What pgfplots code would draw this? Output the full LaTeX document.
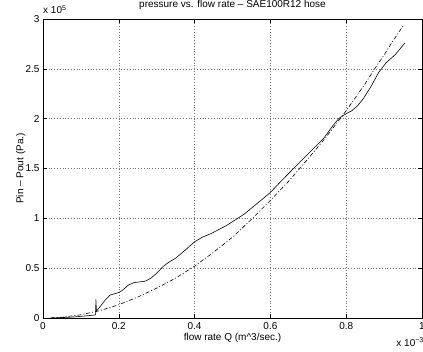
\documentclass[border=0pt]{standalone}
\usepackage{fontspec}
\setmainfont{Liberation Sans}
\usepackage{pgfplots}
\pgfplotsset{compat=1.18}
\begin{document}
\fontsize{10}{12}\selectfont
\begin{tikzpicture}
\begin{axis}[
  name=ax,
  scale only axis,
  width=379pt, height=299pt,
  xmin=0, xmax=1, ymin=0, ymax=3,
  xtick={0,0.2,0.4,0.6,0.8,1},
  xticklabels={0,0.2,0.4,0.6,0.8,1},
  ytick={0,0.5,1,1.5,2,2.5,3},
  yticklabels={0,0.5,1,1.5,2,2.5,3},
  /pgf/number format/assume math mode=true,
  tick align=inside,
  major tick length=4pt,
  tick style={black, line width=0.5pt},
  axis line style={black, line width=0.9pt},
  grid=major,
  grid style={black!55, line width=0.5pt, dash pattern=on 0.6pt off 2.2pt},
  every tick label/.append style={font=\fontsize{10}{12}\selectfont},
  xticklabel style={yshift=-1pt},
  title={pressure vs. flow rate -- SAE100R12 hose},
  title style={at={(axis description cs:0.5,1)}, anchor=base, yshift=6pt, inner sep=0pt, font=\fontsize{10}{12}\selectfont},
  xlabel={flow rate Q (m\textasciicircum3/sec.)},
  xlabel style={at={(axis description cs:0.5,0)}, anchor=base, yshift=-22pt, inner sep=0pt, font=\fontsize{10}{12}\selectfont},
  ylabel={Pin -- Pout (Pa.)},
  ylabel style={at={(axis description cs:-0.052,0.5)}, anchor=base, rotate=0, inner sep=0pt, font=\fontsize{10}{12}\selectfont},
  clip=false,
]
\addplot[black, line width=0.6pt] coordinates {
(0.02,0.0) (0.05,0.004) (0.08,0.01) (0.11,0.02) (0.13,0.028) (0.139,0.032)
(0.1395,0.19) (0.141,0.07) (0.15,0.11) (0.164,0.18) (0.177,0.23) (0.19,0.245)
(0.2,0.255) (0.21,0.28) (0.225,0.33) (0.24,0.355) (0.255,0.362) (0.27,0.37)
(0.285,0.40) (0.30,0.45) (0.315,0.51) (0.33,0.555) (0.35,0.60) (0.375,0.68)
(0.40,0.765) (0.42,0.81) (0.445,0.85) (0.485,0.93) (0.53,1.04) (0.575,1.18)
(0.60,1.26) (0.63,1.38) (0.674,1.55) (0.71,1.686) (0.74,1.80) (0.765,1.93)
(0.78,2.0) (0.80,2.05) (0.815,2.08) (0.83,2.13) (0.845,2.20) (0.865,2.32)
(0.885,2.46) (0.905,2.56) (0.93,2.645) (0.955,2.76)
};
\addplot[black, line width=0.6pt, dash pattern=on 4pt off 2pt on 1pt off 2pt] coordinates {
(0.02,0.001) (0.05,0.008) (0.1,0.033) (0.15,0.074) (0.2,0.133) (0.25,0.21)
(0.3,0.30) (0.35,0.40) (0.4,0.52) (0.45,0.66) (0.5,0.81) (0.55,0.99)
(0.6,1.18) (0.65,1.38) (0.7,1.6) (0.75,1.83) (0.8,2.08) (0.85,2.35)
(0.875,2.50) (0.9,2.64) (0.925,2.79) (0.95,2.93)
};
\coordinate (bl) at (rel axis cs:0,0);
\coordinate (tr) at (rel axis cs:1,1);
\end{axis}
\node[anchor=base west, inner sep=0pt] at ([yshift=5pt]bl |- tr) {x 10\textsuperscript{5}};
\node[anchor=base east, inner sep=0pt] at ([xshift=2pt,yshift=-28pt]tr |- bl) {x 10\textsuperscript{−3}};
\pgfresetboundingbox
\path ([xshift=-43pt,yshift=-33pt]bl) rectangle ([xshift=1pt,yshift=19pt]tr);
\end{tikzpicture}
\end{document}
